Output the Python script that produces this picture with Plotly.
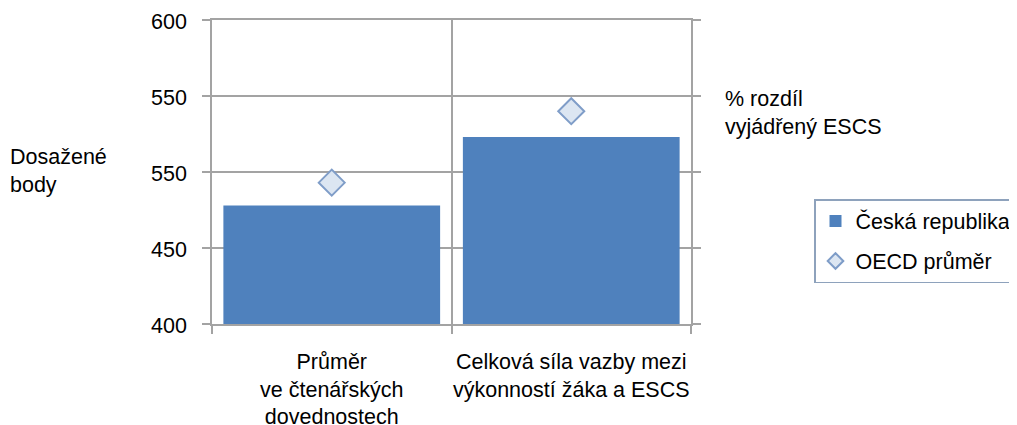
import plotly.graph_objects as go

categories = ["Průměr<br>ve čtenářských<br>dovednostech",
              "Celková síla vazby mezi<br>výkonností žáka a ESCS"]
czech_values = [478, 523]
oecd_values = [493, 540]
y_tickvals = [400, 450, 500, 550, 600]
y_ticktext = ["400", "450", "550", "550", "600"]

FONT = "Liberation Sans, Arial, sans-serif"
FS = 21.5
GRID = "#a3a3a3"

# page body has an 8px margin; figure is sized so it ends at the window edge
W, H = 1009, 417
L, T, R, B = 204, 12, 683, 316   # plot area in figure pixels
PW, PH = R - L, B - T

fig = go.Figure()
fig.add_trace(go.Bar(
    x=categories, y=czech_values, name="Česká republika",
    marker=dict(color="#4f81bd", line=dict(width=0)),
    legendgroup="a",
))
fig.add_trace(go.Scatter(
    x=categories, y=oecd_values, name="OECD průměr", mode="markers",
    marker=dict(symbol="diamond", size=20, color="#dce6f2",
                line=dict(color="#7f9dc8", width=2)),
    legendgroup="b",
))

fig.update_layout(
    width=W, height=H,
    margin=dict(l=L, r=W - R, t=T, b=H - B, autoexpand=False),
    paper_bgcolor="white", plot_bgcolor="white",
    font=dict(family=FONT, size=FS, color="#000000"),
    bargap=0.095,
    showlegend=True,
    legend=dict(
        x=(806 - L) / PW, xanchor="left",
        y=(B - 191) / PH, yanchor="top",
        bgcolor="white", bordercolor="#8ea2bc", borderwidth=1.5,
        font=dict(family=FONT, size=FS, color="#000000"),
        traceorder="grouped", tracegroupgap=9,
        itemwidth=30, itemsizing="constant",
    ),
    xaxis=dict(
        type="category", tickson="boundaries", tickangle=0,
        showgrid=True, gridcolor=GRID, gridwidth=1.5,
        showline=True, linecolor=GRID, linewidth=1.5, mirror=True,
        ticks="outside", ticklen=8, tickcolor=GRID, tickwidth=1.5,
        ticklabelstandoff=17,
        tickfont=dict(family=FONT, size=FS, color="#000000"),
        range=[-0.5, 1.5],
    ),
    yaxis=dict(
        range=[400, 600], tickvals=y_tickvals, ticktext=y_ticktext,
        showgrid=True, gridcolor=GRID, gridwidth=1.5, zeroline=False,
        showline=True, linecolor=GRID, linewidth=1.5, mirror="ticks",
        ticks="outside", ticklen=8, tickcolor=GRID, tickwidth=1.5,
        ticklabelstandoff=11, ticklabelshift=1, ticklabeloverflow="allow",
        tickfont=dict(family=FONT, size=FS, color="#000000"),
    ),
    annotations=[
        dict(text="Dosažené<br>body", xref="paper", yref="paper",
             x=(0 - L) / PW, y=(B - 163) / PH,
             xanchor="left", yanchor="middle", align="left",
             showarrow=False, font=dict(family=FONT, size=FS, color="#000000")),
        dict(text="% rozdíl<br>vyjádřený ESCS", xref="paper", yref="paper",
             x=(715 - L) / PW, y=(B - 104.5) / PH,
             xanchor="left", yanchor="middle", align="left",
             showarrow=False, font=dict(family=FONT, size=FS, color="#000000")),
    ],
)

fig.write_html("out.html")
